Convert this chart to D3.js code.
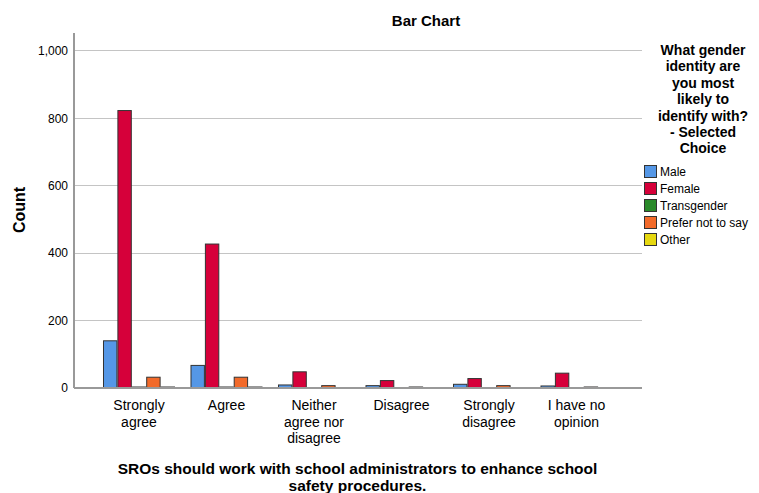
<!DOCTYPE html>
<html>
<head>
<meta charset="utf-8">
<script src="https://cdn.jsdelivr.net/npm/d3@7"></script>
<style>
body { margin: 0; background: #fff; }
text { font-family: "Liberation Sans", Arial, sans-serif; fill: #000; }
</style>
</head>
<body>
<svg id="chart" width="759" height="493"></svg>
<script>
const categories = [["Strongly", "agree"], ["Agree"], ["Neither", "agree nor", "disagree"], ["Disagree"], ["Strongly", "disagree"], ["I have no", "opinion"]];
const seriesNames = ["Male", "Female", "Transgender", "Prefer not to say", "Other"];
const seriesColors = ["#5597E6", "#D6003A", "#2A8A2A", "#F26A2A", "#E6D810"];
const male = [140, 67, 9, 7, 11, 6];
const female = [823, 427, 48, 22, 28, 44];
const transgender = [1, 1, 0, 0, 0, 0];
const preferNot = [32, 32, 7, 3, 7, 3];
const other = [2, 2, 0, 0, 0, 0];
const yTicks = [0, 200, 400, 600, 800, 1000];
const legendTitle = ["What gender", "identity are", "you most", "likely to", "identify with?", "- Selected", "Choice"];
const xTitle = ["SROs should work with school administrators to enhance school", "safety procedures."];

const values = [male, female, transgender, preferNot, other];
const svg = d3.select("#chart");
const L = 74, R = 642, T = 33, B = 388;

const y = d3.scaleLinear().domain([0, 1053]).range([B, T]);
const x0 = d3.scaleBand().domain(d3.range(categories.length)).range([95.25, 620.25]).paddingInner(0.177).paddingOuter(0.0885);
const x1 = d3.scaleBand().domain(d3.range(seriesNames.length)).range([0, x0.bandwidth()]);

// gridlines
svg.append("g").selectAll("line").data(yTicks.filter(d => d > 0)).join("line")
  .attr("x1", L).attr("x2", R).attr("y1", d => y(d)).attr("y2", d => y(d))
  .attr("stroke", "#c4c4c4").attr("stroke-width", 1).attr("shape-rendering", "crispEdges");

// y axis
const yAxis = d3.axisLeft(y).tickValues(yTicks).tickFormat(d3.format(",")).tickSize(0).tickPadding(6);
const ya = svg.append("g").attr("transform", `translate(${L},0)`).call(yAxis);
ya.select(".domain").remove();
ya.selectAll("text").style("font-size", "12px").style("font-family", "Liberation Sans, Arial, sans-serif").attr("fill", "#000");
svg.append("line").attr("x1", L).attr("x2", L).attr("y1", T).attr("y2", B)
  .attr("stroke", "#999").attr("stroke-width", 1.5).attr("shape-rendering", "crispEdges");

// bars
const groups = svg.append("g").selectAll("g").data(categories).join("g")
  .attr("transform", (d, i) => `translate(${x0(i)},0)`);
groups.each(function(c, i) {
  const g = d3.select(this);
  seriesNames.forEach((s, j) => {
    const v = values[j][i];
    if (v <= 0) return;
    const h = Math.max(1, B - y(v));
    g.append("rect")
      .attr("x", x1(j) + 0.5).attr("width", x1.bandwidth() - 1)
      .attr("y", B - h).attr("height", h)
      .attr("fill", seriesColors[j]).attr("stroke", "#333").attr("stroke-width", 1);
  });
});

// x baseline
svg.append("line").attr("x1", L).attr("x2", R).attr("y1", B).attr("y2", B)
  .attr("stroke", "#999").attr("stroke-width", 1.5).attr("shape-rendering", "crispEdges");

// x labels
const xa = svg.append("g");
categories.forEach((lines, i) => {
  const cx = x0(i) + x0.bandwidth() / 2;
  const t = xa.append("text").attr("text-anchor", "middle").style("font-size", "14px").attr("fill", "#222");
  lines.forEach((ln, k) => t.append("tspan").attr("x", cx).attr("y", 410 + k * 16.5).text(ln));
});

// title
svg.append("text").attr("x", 426).attr("y", 26).attr("text-anchor", "middle")
  .style("font-size", "15px").style("font-weight", "bold").text("Bar Chart");

// y title
svg.append("text").attr("transform", "translate(25,210) rotate(-90)").attr("text-anchor", "middle")
  .style("font-size", "16px").style("font-weight", "bold").text("Count");

// x title
const xt = svg.append("text").attr("text-anchor", "middle").style("font-size", "15.5px").style("font-weight", "bold");
xTitle.forEach((ln, k) => xt.append("tspan").attr("x", 357.5).attr("y", 474 + k * 16.5).text(ln));

// legend
const lt = svg.append("text").attr("text-anchor", "middle").style("font-size", "14px").style("font-weight", "bold");
legendTitle.forEach((ln, k) => lt.append("tspan").attr("x", 703).attr("y", 55 + k * 16.4).text(ln));
const lg = svg.append("g").selectAll("g").data(seriesNames).join("g")
  .attr("transform", (d, i) => `translate(644,${165 + i * 17})`);
lg.append("rect").attr("x", 0.5).attr("y", 0.5).attr("width", 12).attr("height", 12)
  .attr("fill", (d, i) => seriesColors[i]).attr("stroke", "#333").attr("stroke-width", 1);
lg.append("text").attr("x", 16).attr("y", 11).style("font-size", "12px").attr("fill", "#222").text(d => d);
</script>
</body>
</html>
